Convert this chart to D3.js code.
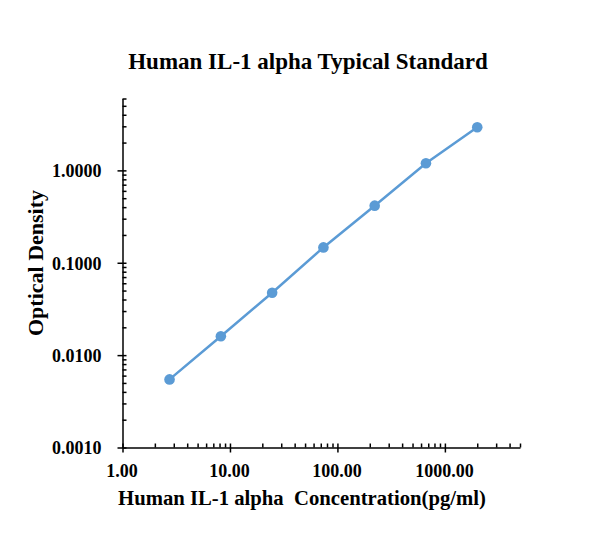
<!DOCTYPE html>
<html><head><meta charset="utf-8">
<script src="https://cdn.jsdelivr.net/npm/d3@7"></script>
<style>body{margin:0;background:#fff}svg{display:block}text{font-family:"Liberation Serif","Times New Roman",serif;font-weight:bold;fill:#000}</style>
</head><body><svg id="c" width="611" height="558"></svg>
<script>
const concentrations = [2.74, 8.23, 24.69, 74.07, 222.2, 666.7, 2000];
const odValues = [0.00546, 0.0160, 0.0473, 0.1466, 0.415, 1.194, 2.93];
const xTickValues = [1, 10, 100, 1000];
const xTickLabels = ["1.00", "10.00", "100.00", "1000.00"];
const yTickValues = [0.001, 0.01, 0.1, 1];
const yTickLabels = ["0.0010", "0.0100", "0.1000", "1.0000"];
const titleText = "Human IL-1 alpha Typical Standard";
const xTitle = "Human IL-1 alpha  Concentration(pg/ml)";
const yTitle = "Optical Density";

const svg = d3.select("#c");
const x = d3.scaleLog().domain([1, 5000]).range([122.5, 520]);
const y = d3.scaleLog().domain([0.001, 6]).range([447.5, 98.5]);

const xMinor = [];
for (let d = 1; d <= 1000; d *= 10) for (let k = 2; k <= 9; k++) if (d*k <= 5000) xMinor.push(d*k);
const yMinor = [];
for (let d = 0.001; d <= 1.0001; d *= 10) for (let k = 2; k <= 9; k++) if (d*k <= 6.0001) yMinor.push(+(d*k).toPrecision(3));

const axisStyle = g => { g.selectAll("path,line").attr("stroke", "#000").attr("stroke-width", 1.5); g.selectAll("text").remove(); };

svg.append("g").attr("transform", `translate(0,${y(0.001)})`)
  .call(d3.axisTop(x).tickValues(xMinor).tickSize(4).tickSizeOuter(0).tickFormat(""))
  .call(axisStyle);
const gx = svg.append("g").attr("transform", `translate(0,${y(0.001)})`)
  .call(d3.axisBottom(x).tickValues(xTickValues).tickSize(5).tickSizeOuter(0).tickFormat((d,i) => xTickLabels[i]));
gx.select(".domain").remove();
gx.selectAll("line").attr("stroke","#000").attr("stroke-width",1.5).attr("y1",-4);
gx.selectAll("text").attr("font-size", 18).attr("font-family", "Liberation Serif").attr("font-weight","bold").attr("fill","#000").attr("dy", null).attr("y", 29).attr("dx", -1);

svg.append("g").attr("transform", `translate(${x(1)},0)`)
  .call(d3.axisRight(y).tickValues(yMinor).tickSize(4).tickSizeOuter(0).tickFormat(""))
  .call(axisStyle);
const gy = svg.append("g").attr("transform", `translate(${x(1)},0)`)
  .call(d3.axisLeft(y).tickValues(yTickValues).tickSize(5).tickSizeOuter(0).tickFormat((d,i) => yTickLabels[i]));
gy.select(".domain").remove();
gy.selectAll("line").attr("stroke","#000").attr("stroke-width",1.5).attr("x1",4);
gy.selectAll("text").attr("font-size", 18).attr("font-family", "Liberation Serif").attr("font-weight","bold").attr("fill","#000").attr("x", -21).attr("dy","0.35em");

const pts = concentrations.map((c,i) => [c, odValues[i]]);
svg.append("path").datum(pts)
  .attr("d", d3.line().x(d => x(d[0])).y(d => y(d[1])))
  .attr("fill","none").attr("stroke","#5B9BD5").attr("stroke-width",2.5);
svg.selectAll("circle.p").data(pts).join("circle").attr("class","p")
  .attr("cx", d => x(d[0])).attr("cy", d => y(d[1])).attr("r", 5.3).attr("fill","#5B9BD5");

svg.append("text").attr("x", 308).attr("y", 69).attr("text-anchor","middle").attr("font-size", 23).text(titleText);
svg.append("text").attr("x", 302).attr("y", 505).attr("text-anchor","middle").attr("font-size", 20.7).style("white-space","pre").text(xTitle);
svg.append("text").attr("transform","translate(43,263) rotate(-90)").attr("text-anchor","middle").attr("font-size", 22).text(yTitle);
</script></body></html>
